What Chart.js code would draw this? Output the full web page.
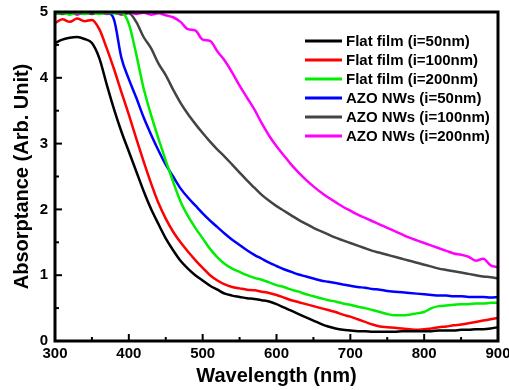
<!DOCTYPE html>
<html>
<head>
<meta charset="utf-8">
<script src="https://cdn.jsdelivr.net/npm/chart.js@4/dist/chart.umd.min.js"></script>
<style>
  html, body { margin: 0; padding: 0; background: #fff; }
  #wrap { width: 509px; height: 390px; position: relative; }
</style>
</head>
<body>
<div id="wrap"><canvas id="chart"></canvas></div>
<script>
/* Absorptance spectra: flat films vs AZO nanowires */
(function () {
  'use strict';

  var wavelength = [300,310,320,330,340,350,360,370,380,390,400,410,420,430,440,450,460,470,480,490,
    500,510,520,530,540,550,560,570,580,590,600,610,620,630,640,650,660,670,680,690,
    700,710,720,730,740,750,760,770,780,790,800,810,820,830,840,850,860,870,880,890,900];

  var flat50 = [4.53,4.58,4.61,4.62,4.59,4.53,4.30,3.90,3.52,3.18,2.88,2.58,2.28,2.01,1.78,1.56,1.38,1.22,1.10,1.00,
    0.92,0.84,0.78,0.72,0.69,0.67,0.65,0.64,0.62,0.60,0.56,0.51,0.46,0.41,0.36,0.31,0.26,0.22,0.19,0.17,
    0.16,0.15,0.15,0.14,0.14,0.14,0.14,0.15,0.15,0.15,0.15,0.15,0.16,0.16,0.16,0.17,0.17,0.18,0.18,0.19,0.21];

  var flat100 = [4.83,4.89,4.85,4.90,4.86,4.88,4.74,4.45,4.13,3.78,3.44,3.08,2.73,2.40,2.10,1.86,1.66,1.50,1.36,1.23,
    1.11,1.00,0.92,0.86,0.82,0.80,0.78,0.77,0.75,0.73,0.70,0.66,0.62,0.59,0.56,0.53,0.50,0.47,0.44,0.40,
    0.37,0.33,0.29,0.25,0.22,0.21,0.20,0.19,0.18,0.17,0.18,0.19,0.21,0.22,0.24,0.25,0.27,0.29,0.31,0.33,0.35];

  var flat200 = [4.97,4.99,4.96,4.99,4.97,5.00,4.97,4.99,4.98,4.99,4.82,4.36,3.84,3.44,3.08,2.74,2.42,2.12,1.90,1.72,
    1.56,1.40,1.27,1.17,1.10,1.05,1.00,0.96,0.93,0.89,0.85,0.82,0.78,0.75,0.71,0.68,0.65,0.62,0.60,0.57,
    0.55,0.52,0.50,0.47,0.44,0.41,0.39,0.39,0.40,0.42,0.44,0.50,0.53,0.54,0.55,0.56,0.56,0.57,0.57,0.58,0.58];

  var nw50 = [4.98,5.00,4.97,4.99,4.98,5.00,4.98,4.99,4.88,4.30,3.98,3.70,3.40,3.14,2.90,2.68,2.50,2.32,2.18,2.06,
    1.94,1.83,1.73,1.63,1.54,1.46,1.38,1.31,1.25,1.19,1.14,1.09,1.05,1.01,0.98,0.95,0.92,0.90,0.88,0.86,
    0.84,0.82,0.81,0.79,0.78,0.76,0.75,0.74,0.73,0.72,0.71,0.70,0.69,0.69,0.68,0.68,0.67,0.67,0.67,0.66,0.67];

  var nw100 = [4.99,4.97,5.00,4.98,4.99,4.97,5.00,4.98,4.99,4.97,4.98,4.85,4.62,4.45,4.22,4.04,3.82,3.62,3.45,3.30,
    3.16,3.03,2.91,2.80,2.68,2.56,2.44,2.33,2.22,2.13,2.05,1.98,1.91,1.84,1.78,1.72,1.67,1.62,1.57,1.53,
    1.49,1.45,1.41,1.37,1.34,1.31,1.28,1.25,1.22,1.19,1.16,1.13,1.10,1.08,1.06,1.04,1.02,1.00,0.98,0.97,0.95];

  var nw200 = [4.97,4.99,5.00,4.96,4.99,4.98,5.00,4.97,4.99,4.96,5.00,4.97,4.99,4.96,4.98,4.95,4.92,4.85,4.74,4.72,
    4.58,4.56,4.40,4.26,4.08,3.88,3.70,3.52,3.31,3.12,2.96,2.82,2.68,2.56,2.45,2.35,2.26,2.18,2.11,2.04,
    1.98,1.92,1.87,1.82,1.77,1.72,1.67,1.62,1.57,1.53,1.49,1.45,1.41,1.37,1.33,1.31,1.28,1.22,1.25,1.15,1.12];

  var labels = ['Flat film (i=50nm)', 'Flat film (i=100nm)', 'Flat film (i=200nm)',
    'AZO NWs (i=50nm)', 'AZO NWs (i=100nm)', 'AZO NWs (i=200nm)'];
  var series = [flat50, flat100, flat200, nw50, nw100, nw200];
  var COLORS = ['#000000', '#ff0000', '#00ee00', '#0000ff', '#444444', '#ff00ff'];

  var FONT = '"Liberation Sans", Arial, sans-serif';

  function points(ys) {
    return ys.map(function (y, i) { return { x: wavelength[i], y: y }; });
  }

  // frame, inward ticks, axis titles and the legend box
  var decor = {
    id: 'decor',
    afterDatasetsDraw: function (chart) {
      var ctx = chart.ctx, a = chart.chartArea;
      var xs = chart.scales.x, ys = chart.scales.y;
      ctx.save();
      ctx.strokeStyle = '#000';
      ctx.lineWidth = 2;
      xs.ticks.forEach(function (t) {
        var px = xs.getPixelForValue(t.value);
        var len = t.value % 100 === 0 ? 7 : 4;
        ctx.beginPath(); ctx.moveTo(px, a.bottom); ctx.lineTo(px, a.bottom - len); ctx.stroke();
      });
      ys.ticks.forEach(function (t) {
        var py = ys.getPixelForValue(t.value);
        var len = Number.isInteger(t.value) ? 7 : 4;
        ctx.beginPath(); ctx.moveTo(a.left, py); ctx.lineTo(a.left + len, py); ctx.stroke();
      });
      ctx.lineWidth = 3;
      ctx.strokeRect(a.left, a.top, a.right - a.left, a.bottom - a.top);

      // axis titles
      ctx.fillStyle = '#000';
      ctx.font = 'bold 20px ' + FONT;
      ctx.textAlign = 'center';
      ctx.textBaseline = 'alphabetic';
      ctx.fillText('Wavelength (nm)', (a.left + a.right) / 2, 382);
      ctx.save();
      ctx.translate(28, (a.top + a.bottom) / 2);
      ctx.rotate(-Math.PI / 2);
      ctx.fillText('Absorptance (Arb. Unit)', 0, 0);
      ctx.restore();

      // legend
      ctx.font = 'bold 15px ' + FONT;
      ctx.textAlign = 'left';
      ctx.textBaseline = 'middle';
      chart.data.datasets.forEach(function (ds, i) {
        var y = 41 + i * 19;
        ctx.strokeStyle = ds.borderColor;
        ctx.lineWidth = 3;
        ctx.beginPath(); ctx.moveTo(305, y); ctx.lineTo(342, y); ctx.stroke();
        ctx.fillText(ds.label, 346, y + 1);
      });
      ctx.restore();
    }
  };

  new Chart(document.getElementById('chart').getContext('2d'), {
    type: 'line',
    data: {
      datasets: series.map(function (ys, i) {
        return {
          label: labels[i],
          data: points(ys),
          borderColor: COLORS[i],
          borderWidth: 2.5,
          pointRadius: 0,
          cubicInterpolationMode: 'monotone',
          fill: false
        };
      })
    },
    options: {
      responsive: true, maintainAspectRatio: false,
      animation: false, devicePixelRatio: 1,
      layout: { padding: { left: 0, right: 11, top: 12, bottom: 0 } },
      plugins: { legend: { display: false }, tooltip: { enabled: false } },
      scales: {
        x: {
          type: 'linear', min: 300, max: 900,
          grid: { display: false, drawTicks: false },
          border: { display: false },
          ticks: {
            stepSize: 50, autoSkip: false, maxRotation: 0, padding: 4, color: '#000',
            font: { family: FONT, size: 15, weight: 'bold' },
            callback: function (v) { return v % 100 === 0 ? v : ''; }
          },
          afterFit: function (s) { s.height = 49; s.paddingLeft = 0; s.paddingRight = 0; }
        },
        y: {
          min: 0, max: 5,
          grid: { display: false, drawTicks: false },
          border: { display: false },
          ticks: {
            stepSize: 0.5, autoSkip: false, padding: 7, color: '#000',
            font: { family: FONT, size: 15, weight: 'bold' },
            callback: function (v) { return Number.isInteger(v) ? v : ''; }
          },
          afterFit: function (s) { s.width = 55; s.paddingTop = 0; s.paddingBottom = 0; }
        }
      }
    },
    plugins: [decor]
  });
})();
</script>
</body>
</html>
